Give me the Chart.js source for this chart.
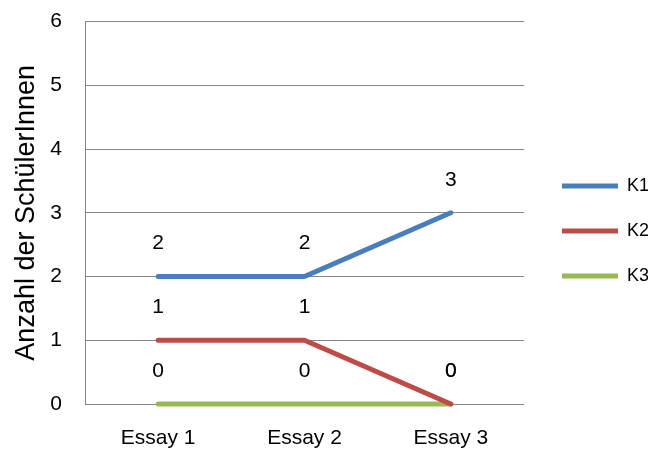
<!DOCTYPE html>
<html>
<head>
<meta charset="utf-8">
<script src="https://cdn.jsdelivr.net/npm/chart.js@4.4.1/dist/chart.umd.min.js"></script>
<style>
  html, body { margin: 0; padding: 0; background: #fff; }
  #wrap { width: 672px; height: 453px; }
</style>
</head>
<body>
<div id="wrap"><canvas id="linecanvas" width="672" height="453"></canvas></div>
<script>
var categories = ['Essay 1', 'Essay 2', 'Essay 3'];
var k1 = [2, 2, 3];
var k2 = [1, 1, 0];
var k3 = [0, 0, 0];
var yTicks = [0, 1, 2, 3, 4, 5, 6];

var FONT = "'Liberation Sans', Arial, sans-serif";
var gridColor = '#868686';

// draws the value above each point
var valueLabels = {
	id: 'valueLabels',
	afterDatasetsDraw: function(chart) {
		var ctx = chart.ctx;
		ctx.save();
		ctx.font = '21px ' + FONT;
		ctx.fillStyle = '#000';
		ctx.textAlign = 'center';
		ctx.textBaseline = 'middle';
		chart.data.datasets.forEach(function(ds, i) {
			var meta = chart.getDatasetMeta(i);
			meta.data.forEach(function(pt, j) {
				ctx.fillText(String(ds.data[j]), pt.x, pt.y - 33);
			});
		});
		ctx.restore();
	}
};

// pushes the legend a bit away from the plot
var legendShift = {
	id: 'legendShift',
	afterLayout: function(chart) {
		if (chart.legend) chart.legend.left = 535;
	}
};

function series(label, data, color) {
	return {
		label: label,
		data: data,
		borderColor: color,
		backgroundColor: color,
		borderWidth: 5,
		borderCapStyle: 'round',
		borderJoinStyle: 'round',
		pointRadius: 0,
		pointHoverRadius: 0,
		tension: 0,
		clip: false
	};
}

var ctx = document.getElementById('linecanvas');
var lineGraph = new Chart(ctx, {
	type: 'line',
	data: {
		labels: categories,
		datasets: [
			series('K1', k1, '#4A7EBB'),
			series('K2', k2, '#BE4B48'),
			series('K3', k3, '#98B954')
		]
	},
	options: {
		responsive: false,
		animation: false,
		devicePixelRatio: 1,
		layout: { padding: { top: 9, left: 0, right: 24, bottom: 0 } },
		plugins: {
			tooltip: { enabled: false },
			legend: {
				position: 'right',
				labels: {
					usePointStyle: true,
					pointStyle: 'line',
					pointStyleWidth: 56,
					color: '#000',
					font: { family: FONT, size: 18 },
					padding: 27
				}
			}
		},
		scales: {
			x: {
				offset: true,
				grid: { display: false },
				border: { display: true, color: gridColor, width: 1 },
				ticks: { color: '#000', font: { family: FONT, size: 21 }, padding: 14 },
				afterFit: function(scale) { scale.height = 49; }
			},
			y: {
				min: 0,
				max: 6,
				afterBuildTicks: function(scale) {
					scale.ticks = yTicks.map(function(v) { return { value: v }; });
				},
				grid: { color: gridColor, lineWidth: 1, drawTicks: true, tickLength: 14, tickColor: 'rgba(0,0,0,0)' },
				border: { display: true, color: gridColor, width: 1 },
				ticks: { color: '#000', font: { family: FONT, size: 21 }, padding: 9 },
				title: {
					display: true,
					text: 'Anzahl der SchülerInnen',
					color: '#000',
					font: { family: FONT, size: 27, weight: 'normal' },
					padding: { top: 10, bottom: 0 }
				},
				afterFit: function(scale) { scale.width = 85; }
			}
		}
	},
	plugins: [valueLabels, legendShift]
});
</script>
</body>
</html>
